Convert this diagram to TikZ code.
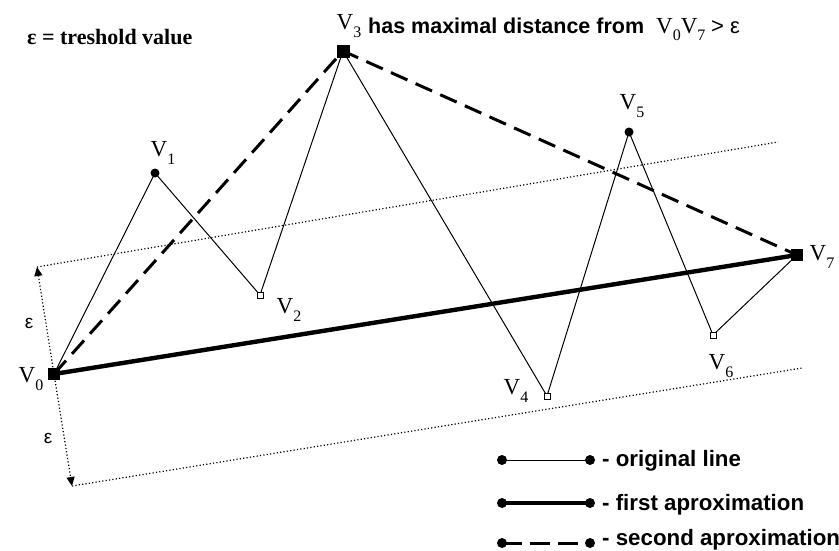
\documentclass[tikz,border=0pt]{standalone}
\usepackage{fontspec}
\setmainfont{Liberation Serif}
\setsansfont{Liberation Sans}
\usetikzlibrary{arrows.meta}
\newcommand\Vlab[1]{V\raisebox{-0.32em}{\fontsize{16}{16}\selectfont #1}}
\begin{document}
\begin{tikzpicture}[x=1pt,y=-1pt,
  orig/.style={line width=1pt},
  firstap/.style={line width=4.4pt},
  secap/.style={line width=3pt, dash pattern=on 18pt off 9pt},
  band/.style={line width=1.2pt, dash pattern=on 1.2pt off 2.2pt},
  filsq/.style={rectangle, fill=black, draw=black, minimum size=#1, inner sep=0pt},
  opensq/.style={rectangle, fill=white, draw=black, line width=1pt, minimum size=6pt, inner sep=0pt},
  vdot/.style={circle, fill=black, minimum size=9pt, inner sep=0pt},
  ldot/.style={circle, fill=black, minimum size=10pt, inner sep=0pt},
  vlabel/.style={font=\fontsize{23}{23}\selectfont, inner sep=0pt},
  legtext/.style={anchor=base west, font=\sffamily\bfseries\fontsize{22.3}{22.3}\selectfont, inner sep=0pt},
  epslab/.style={font=\sffamily\fontsize{19}{19}\selectfont, inner sep=0pt}
]
\useasboundingbox (0,0) rectangle (839,550);

% vertices
\coordinate (p0) at (54,374);
\coordinate (p1) at (155,173);
\coordinate (p2) at (260,295);
\coordinate (p3) at (343,51);
\coordinate (p4) at (547,396);
\coordinate (p5) at (629,132);
\coordinate (p6) at (713,335);
\coordinate (p7) at (797,255);

% epsilon band
\coordinate (ua) at (37,267);
\coordinate (ue) at (778,142);
\coordinate (la) at (72,486);
\coordinate (le) at (802,368);
\draw[band] (ua) -- (ue);
\draw[band] (la) -- (le);
\draw[band, -{Triangle[length=9pt,width=8pt]}] (p0) -- (ua);
\draw[band, -{Triangle[length=9pt,width=8pt]}] (p0) -- (la);
\node[epslab] (e1) at (29,323) {ε};
\node[epslab] (e2) at (48,438) {ε};

% original line
\draw[orig] (p0) -- (p1) -- (p2) -- (p3) -- (p4) -- (p5) -- (p6) -- (p7);
% first approximation
\draw[firstap] (p0) -- (p7);
% second approximation
\draw[secap] (p0) -- (p3) -- (p7);

% markers
\node[filsq=11pt] (m0) at (p0) {};
\node[vdot] (m1) at (p1) {};
\node[opensq] (m2) at (p2) {};
\node[filsq=12pt] (m3) at (p3) {};
\node[opensq] (m4) at (p4) {};
\node[vdot] (m5) at (p5) {};
\node[opensq] (m6) at (p6) {};
\node[filsq=11pt] (m7) at (p7) {};

% vertex labels
\node[vlabel] (t0) at (31,379) {\Vlab{0}};
\node[vlabel] (t1) at (163,153) {\Vlab{1}};
\node[vlabel] (t2) at (289,310) {\Vlab{2}};
\node[vlabel] (t3) at (349,26) {\Vlab{3}};
\node[vlabel] (t4) at (516,391) {\Vlab{4}};
\node[vlabel] (t5) at (632,106) {\Vlab{5}};
\node[vlabel] (t6) at (721,366) {\Vlab{6}};
\node[vlabel] (t7) at (822,257) {\Vlab{7}};

% headings
\node[anchor=base west, inner sep=0pt, font=\bfseries\fontsize{22}{22}\selectfont] (thr) at (27,44) {ε = treshold value};
\node[anchor=base west, inner sep=0pt, font=\sffamily\bfseries\fontsize{21.5}{21.5}\selectfont] (head) at (368,33) {has maximal distance from};
\node[anchor=base west, inner sep=0pt, font=\fontsize{23}{23}\selectfont] (head2) at (656,33) {\Vlab{0}\Vlab{7} {\sffamily\fontsize{22}{22}\selectfont > ε}};

% legend
\coordinate (a1) at (502,460); \coordinate (b1) at (590,460);
\coordinate (a2) at (502,503); \coordinate (b2) at (590,503);
\coordinate (a3) at (502,543); \coordinate (b3) at (590,543);
\draw[orig] (a1) -- (b1);
\draw[firstap] (a2) -- (b2);
\draw[line width=3pt, dash pattern=on 20pt off 8pt] (a3) -- (b3);
\node[ldot] (d1a) at (a1) {}; \node[ldot] (d1b) at (b1) {};
\node[ldot] (d2a) at (a2) {}; \node[ldot] (d2b) at (b2) {};
\node[ldot] (d3a) at (a3) {}; \node[ldot] (d3b) at (b3) {};
\node[legtext] (g1) at (602,466) {- original line};
\node[legtext] (g2) at (602,510) {- first aproximation};
\node[legtext] (g3) at (602,545) {- second aproximation};
\end{tikzpicture}
\end{document}
